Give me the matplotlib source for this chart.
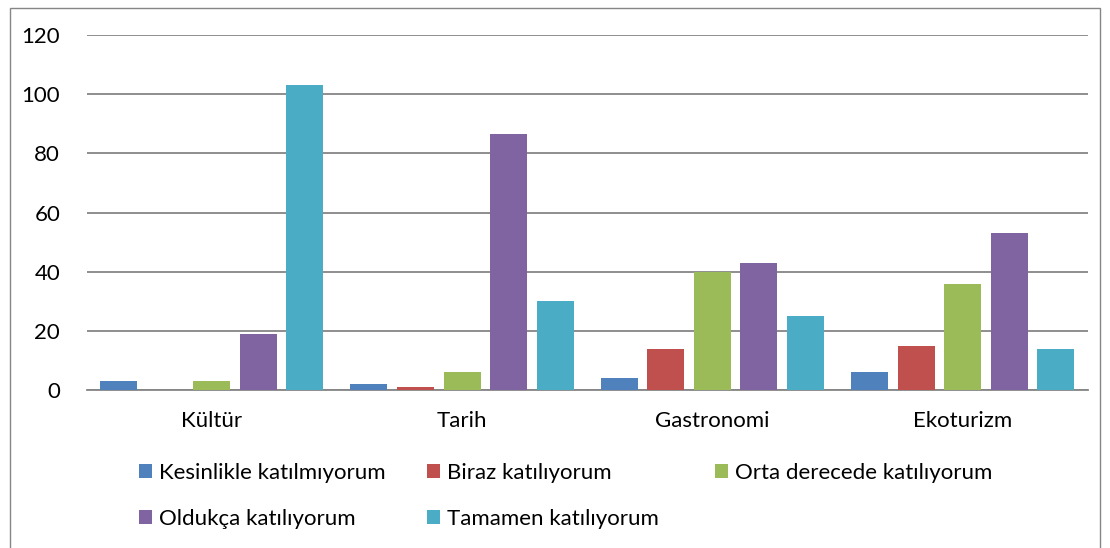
import numpy as np
import matplotlib.pyplot as plt
from matplotlib.patches import Rectangle

categories = ['Kültür', 'Tarih', 'Gastronomi', 'Ekoturizm']
series_names = ['Kesinlikle katılmıyorum', 'Biraz katılıyorum', 'Orta derecede katılıyorum',
                'Oldukça katılıyorum', 'Tamamen katılıyorum']
kesinlikle = [3, 2, 4, 6]
biraz = [0, 1, 14, 15]
orta = [3, 6, 40, 36]
oldukca = [19, 86.5, 43, 53]
tamamen = [103, 30, 25, 14]
colors = ['#4F81BD', '#C0504D', '#9BBB59', '#8064A2', '#4BACC6']

plt.rcParams['font.family'] = ['Lato', 'DejaVu Sans']

fig = plt.figure(figsize=(11.1, 5.48), dpi=100)
ax = fig.add_axes([0.078, 0.288, 0.902, 0.648])

x = np.arange(len(categories))
step = 0.186
width = 0.148
bars = []
for i, (vals, name) in enumerate(zip([kesinlikle, biraz, orta, oldukca, tamamen], series_names)):
    b = ax.bar(x + (i - 2) * step, vals, width, color=colors[i], label=name, zorder=3)
    bars.append(b)

ax.set_xlim(-0.5, len(categories) - 0.5)
ax.set_ylim(0, 120)
ax.set_yticks(range(0, 121, 20))
ax.set_xticks(x)
ax.set_xticklabels(categories)
ax.yaxis.grid(True, color='#868686', linewidth=1.3, zorder=0)
for s in ['top', 'right', 'left']:
    ax.spines[s].set_visible(False)
ax.spines['bottom'].set_color('#868686')
ax.spines['bottom'].set_linewidth(1.3)
ax.tick_params(axis='both', length=0, labelsize=16, colors='black')
ax.tick_params(axis='y', pad=19)
ax.tick_params(axis='x', pad=15)

# legend: three columns, filled row by row
columns = [[0, 3], [1, 4], [2]]
col_x = [139, 427, 715]
for idx, cx in zip(columns, col_x):
    leg = fig.legend([bars[i] for i in idx], [series_names[i] for i in idx],
                     loc='upper left', bbox_to_anchor=(cx / 1110, 1 - 463 / 548),
                     frameon=False, fontsize=16, handlelength=0.6, handleheight=0.6,
                     handletextpad=0.3, labelspacing=1.18, borderpad=0, borderaxespad=0)

fig.patches.append(Rectangle((0.009, -0.01), 0.982, 0.995, transform=fig.transFigure,
                             fill=False, edgecolor='#868686', linewidth=1))

fig.savefig('out.png', dpi=100)
